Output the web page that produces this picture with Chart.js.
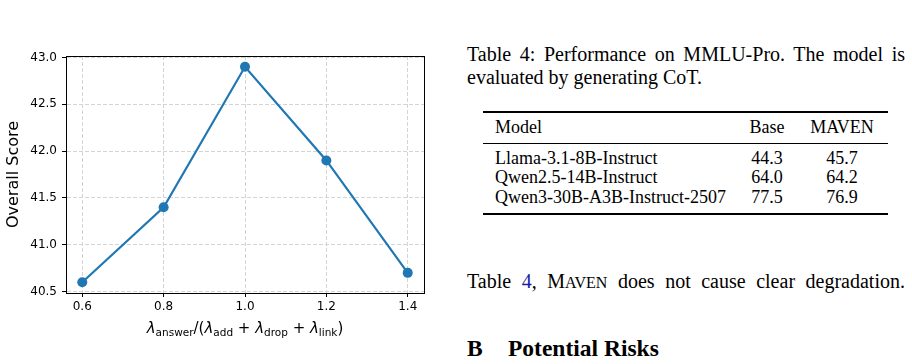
<!DOCTYPE html>
<html>
<head>
<meta charset="utf-8">
<script src="https://cdn.jsdelivr.net/npm/chart.js@4"></script>
<style>
    body { margin: 0; background: #fff; width: 912px; height: 364px; overflow: hidden; position: relative; }
    #chartBox { position: absolute; left: 0; top: 0; width: 440px; height: 364px; }
    .t { position: absolute; font-family: "Liberation Serif", "Times New Roman", serif; color: #000; line-height: 1; white-space: nowrap; }
    .just { text-align: justify; text-align-last: justify; white-space: normal; }
    .rule { position: absolute; left: 483px; width: 405px; background: #000; }
    .sc { font-size: 0.8em; }
</style>
</head>
<body>
<div id="chartBox"><canvas id="ratioChart" width="440" height="364"></canvas></div>

<!-- phần văn bản bên phải -->
<div class="t just" style="left:467px; top:44px; width:438px; font-size:20px;">Table 4: Performance on MMLU-Pro. The model is</div>
<div class="t" style="left:467px; top:67px; font-size:20px;">evaluated by generating CoT.</div>

<div class="rule" style="top:111px; height:1.6px;"></div>
<div class="rule" style="top:142.8px; height:1.1px;"></div>
<div class="rule" style="top:213.3px; height:1.6px;"></div>
<div id="tableRows"></div>

<div class="t just" style="left:467px; top:270.5px; width:438px; font-size:20px;">Table <span style="color:#1c1ca8">4</span>, M<span class="sc">AVEN</span> does not cause clear degradation.</div>
<div class="t" style="left:467px; top:336.5px; font-size:23.5px; font-weight:bold;">B</div>
<div class="t" style="left:508px; top:336.5px; font-size:23.5px; font-weight:bold;">Potential Risks</div>

<script>
// Dữ liệu biểu đồ
const ratioValues = [0.6, 0.8, 1.0, 1.2, 1.4];
const overallScores = [40.6, 41.4, 42.9, 41.9, 40.7];
const xTicks = [0.6, 0.8, 1.0, 1.2, 1.4];
const yTicks = [40.5, 41.0, 41.5, 42.0, 42.5, 43.0];

// Dữ liệu bảng
const tableHeader = ['Model', 'Base', 'MAVEN'];
const modelNames = ['Llama-3.1-8B-Instruct', 'Qwen2.5-14B-Instruct', 'Qwen3-30B-A3B-Instruct-2507'];
const baseScores = ['44.3', '64.0', '77.5'];
const mavenScores = ['45.7', '64.2', '76.9'];

// Hàm dựng bảng
function buildTable() {
    const box = document.getElementById('tableRows');
    const rowTops = [118, 149, 168.3, 188.2];
    const rows = [tableHeader].concat(modelNames.map((m, i) => [m, baseScores[i], mavenScores[i]]));
    let html = '';
    rows.forEach((r, i) => {
        const top = rowTops[i];
        html += `<div class="t" style="left:495px; top:${top}px; font-size:18px;">${r[0]}</div>`;
        html += `<div class="t" style="left:737px; width:60px; text-align:center; top:${top}px; font-size:18px;">${r[1]}</div>`;
        html += `<div class="t" style="left:802px; width:80px; text-align:center; top:${top}px; font-size:18px;">${r[2]}</div>`;
    });
    box.innerHTML = html;
}

// Plugin vẽ khung và nhãn trục x có chỉ số dưới
const frameAndLabel = {
    id: 'frameAndLabel',
    afterDraw(chart) {
        const ctx = chart.ctx;
        const a = chart.chartArea;
        ctx.save();
        ctx.setLineDash([]);
        ctx.strokeStyle = '#000';
        ctx.lineWidth = 1;
        ctx.strokeRect(Math.round(a.left) + 0.5, Math.round(a.top) + 0.5,
            Math.round(a.right - a.left), Math.round(a.bottom - a.top));

        const parts = [
            ['λ', 'main', true], ['answer', 'sub'], ['/(', 'main'],
            ['λ', 'main', true], ['add', 'sub'], [' + ', 'main'],
            ['λ', 'main', true], ['drop', 'sub'], [' + ', 'main'],
            ['λ', 'main', true], ['link', 'sub'], [')', 'main']
        ];
        const fontFor = p => (p[2] ? 'oblique ' : '') + (p[1] === 'sub' ? '10.5px' : '15px') + ' "DejaVu Sans"';
        let total = 0;
        parts.forEach(p => { ctx.font = fontFor(p); total += ctx.measureText(p[0]).width; });
        let x = (a.left + a.right) / 2 - total / 2;
        const baseY = 333;
        ctx.fillStyle = '#000';
        ctx.textBaseline = 'alphabetic';
        ctx.textAlign = 'left';
        parts.forEach(p => {
            ctx.font = fontFor(p);
            ctx.fillText(p[0], x, p[1] === 'sub' ? baseY + 2.5 : baseY);
            x += ctx.measureText(p[0]).width;
        });
        ctx.restore();
    }
};

function initRatioChart() {
    const ctx = document.getElementById('ratioChart').getContext('2d');
    const points = ratioValues.map((v, i) => ({ x: v, y: overallScores[i] }));

    const gridStyle = {
        color: '#d4d4d4',
        lineWidth: 1,
        tickColor: '#000',
        tickLength: 4,
        tickWidth: 1,
        tickBorderDash: []
    };
    // v4: border.dash áp dụng cho đường lưới
    const borderStyle = { display: true, color: '#000', width: 1, dash: [4, 2] };

    new Chart(ctx, {
        type: 'line',
        data: {
            datasets: [{
                data: points,
                borderColor: '#1f77b4',
                backgroundColor: '#1f77b4',
                borderWidth: 2.2,
                pointRadius: 5,
                pointBorderWidth: 0,
                pointHoverRadius: 5,
                fill: false,
                tension: 0
            }]
        },
        options: {
            responsive: false,
            animation: false,
            devicePixelRatio: 1,
            layout: { padding: { left: 0, top: 56, right: 16, bottom: 0 } },
            plugins: {
                legend: { display: false },
                tooltip: { enabled: false }
            },
            scales: {
                x: {
                    type: 'linear',
                    min: 0.56,
                    max: 1.44,
                    grid: gridStyle,
                    border: borderStyle,
                    afterBuildTicks: scale => { scale.ticks = xTicks.map(v => ({ value: v })); },
                    afterFit: scale => { scale.height = 71; },
                    ticks: {
                        color: '#000',
                        padding: 3,
                        maxRotation: 0,
                        font: { family: 'DejaVu Sans', size: 12 },
                        callback: v => v.toFixed(1)
                    }
                },
                y: {
                    type: 'linear',
                    min: 40.485,
                    max: 43.015,
                    grid: gridStyle,
                    border: borderStyle,
                    afterBuildTicks: scale => { scale.ticks = yTicks.map(v => ({ value: v })); },
                    afterFit: scale => { scale.width = 66; },
                    title: {
                        display: true,
                        text: 'Overall Score',
                        color: '#000',
                        font: { family: 'DejaVu Sans', size: 16 },
                        padding: { top: 4, bottom: 0 }
                    },
                    ticks: {
                        color: '#000',
                        padding: 5,
                        font: { family: 'DejaVu Sans', size: 12 },
                        callback: v => v.toFixed(1)
                    }
                }
            }
        },
        plugins: [frameAndLabel]
    });
}

buildTable();
initRatioChart();
</script>
</body>
</html>
